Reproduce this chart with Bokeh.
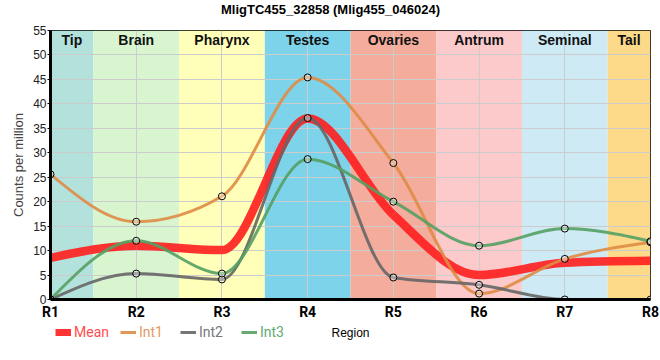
import numpy as np
from bokeh.plotting import figure
from bokeh.layouts import column
from bokeh.models import (ColumnDataSource, Legend, LegendItem, FixedTicker, Range1d, Label)
from bokeh.core.properties import value
from bokeh.embed import file_html
from bokeh.resources import INLINE

# ---------------- data ----------------
regions = ["R1", "R2", "R3", "R4", "R5", "R6", "R7", "R8"]
region_pos = [1, 2, 3, 4, 5, 6, 7, 8]
band_names = ["Tip", "Brain", "Pharynx", "Testes", "Ovaries", "Antrum", "Seminal", "Tail"]
band_colors = ["#B3E2DC", "#D8F5D0", "#FFFFB9", "#7DD3EA", "#F4AC9D", "#FDCACB", "#CEEAF4", "#FDD98A"]

mean_vals = [8.5, 11.0, 10.1, 37.0, 17.3, 5.0, 7.5, 7.9]
int1_vals = [25.6, 15.9, 21.1, 45.4, 27.9, 1.2, 8.3, 11.7]
int2_vals = [0.0, 5.3, 4.1, 37.1, 4.5, 3.0, 0.0, 0.0]
int3_vals = [0.0, 12.0, 5.3, 28.7, 20.0, 11.0, 14.5, 11.9]

series_names = ["Mean", "Int1", "Int2", "Int3"]
series_vals = [mean_vals, int1_vals, int2_vals, int3_vals]
series_colors = ["#FF1E1E", "#DF8C46", "#666666", "#55A064"]
series_widths = [8.5, 3, 3, 3]
legend_widths = [7, 3, 3, 3]
series_markers = [False, True, True, True]
legend_text_colors = ["#FF4D4D", "#E39A62", "#777777", "#5FAA70"]

TITLE = "MligTC455_32858 (Mlig455_046024)"
XLABEL = "Region"
YLABEL = "Counts per million"
FONT = "Liberation Sans"
FONT2 = "Roboto"


def monotone_bezier(xs, ys):
    """d3 curveMonotoneX: convert points to cubic bezier segments."""
    x = np.asarray(xs, float)
    y = np.asarray(ys, float)
    n = len(x)
    h = np.diff(x)
    s = np.diff(y) / h
    t = np.zeros(n)
    for i in range(1, n - 1):
        h0, h1, s0, s1 = h[i - 1], h[i], s[i - 1], s[i]
        p = (s0 * h1 + s1 * h0) / (h0 + h1)
        t[i] = (np.sign(s0) + np.sign(s1)) * min(abs(s0), abs(s1), 0.5 * abs(p))
    t[0] = (3 * s[0] - t[1]) / 2
    t[-1] = (3 * s[-1] - t[-2]) / 2
    d = dict(x0=x[:-1], y0=y[:-1], x1=x[1:], y1=y[1:],
             cx0=x[:-1] + h / 3, cy0=y[:-1] + h / 3 * t[:-1],
             cx1=x[1:] - h / 3, cy1=y[1:] - h / 3 * t[1:])
    return ColumnDataSource(d)


L, R, T, B = 50, 10, 12, 22
FW, FH = 600, 270
SW = L + FW + R


def strip(h):
    f = figure(width=SW, height=h, output_backend="svg", toolbar_location=None,
               x_range=Range1d(-2, -1), y_range=Range1d(-2, -1),
               x_axis_location=None, y_axis_location=None,
               min_border=0, outline_line_color=None)
    f.grid.visible = False
    return f


# ---- title strip (positions relative to the aligned plot frame) ----
p0 = strip(18)
p0.add_layout(Label(x=280, y=9, x_units="screen", y_units="screen", text=TITLE,
                    text_align="center", text_baseline="middle", text_font=FONT,
                    text_font_size="13px", text_font_style="bold", text_color="black"))

# ---- main plot ----
p = figure(width=SW, height=T + FH + B, output_backend="svg", toolbar_location=None,
           x_range=Range1d(1, 8), y_range=Range1d(0, 55),
           min_border_left=L, min_border_right=R, min_border_top=T, min_border_bottom=B)

# bands
n = len(region_pos)
lefts = [max(v - 0.5, region_pos[0]) for v in region_pos]
rights = [min(v + 0.5, region_pos[-1]) for v in region_pos]
band_src = ColumnDataSource(dict(left=lefts, right=rights, bottom=[0] * n, top=[55] * n,
                                 color=band_colors, name=band_names,
                                 cx=[(a + b) / 2 for a, b in zip(lefts, rights)]))
p.quad(left="left", right="right", bottom="bottom", top="top", fill_color="color",
       line_color=None, source=band_src, level="image")
p.text(x="cx", y="top", text="name", source=band_src, text_align="center",
       text_baseline="top", y_offset=1, text_font=value(FONT), text_font_size="14px",
       text_font_style="bold", text_color="#111111")

# curves
for vals, color, lw in zip(series_vals, series_colors, series_widths):
    src = monotone_bezier(region_pos, vals)
    p.bezier(x0="x0", y0="y0", x1="x1", y1="y1", cx0="cx0", cy0="cy0", cx1="cx1", cy1="cy1",
             source=src, line_color=color, line_width=lw, line_alpha=0.9)

for vals, mk in zip(series_vals, series_markers):
    if mk:
        p.scatter(x=region_pos, y=vals, size=7, marker="circle", line_color="black",
                  line_width=1, fill_color="white", fill_alpha=0.35)

# grid
p.xgrid.ticker = FixedTicker(ticks=region_pos)
p.ygrid.ticker = FixedTicker(ticks=list(range(0, 56, 5)))
p.xgrid.grid_line_color = "#cccccc"
p.ygrid.grid_line_color = "#cccccc"

# axes
p.xaxis.ticker = FixedTicker(ticks=region_pos)
p.xaxis.major_label_overrides = {v: r for v, r in zip(region_pos, regions)}
p.xaxis.major_tick_line_color = None
p.xaxis.major_tick_out = 0
p.xaxis.major_tick_in = 0
p.xaxis.minor_tick_line_color = None
p.xaxis.axis_line_width = 3
p.xaxis.axis_line_color = "black"
p.xaxis.major_label_text_font = FONT2
p.xaxis.major_label_text_font_size = "14px"
p.xaxis.major_label_text_font_style = "bold"
p.xaxis.major_label_text_color = "black"
p.xaxis.major_label_standoff = 4

p.yaxis.ticker = FixedTicker(ticks=list(range(0, 56, 5)))
p.yaxis.minor_tick_line_color = None
p.yaxis.axis_line_width = 3
p.yaxis.axis_line_color = "black"
p.yaxis.major_tick_out = 3
p.yaxis.major_tick_in = 0
p.yaxis.major_tick_line_color = "black"
p.yaxis.major_label_text_font = FONT
p.yaxis.major_label_text_font_size = "12px"
p.yaxis.major_label_text_color = "#222222"
p.yaxis.major_label_standoff = 1
p.yaxis.axis_label = YLABEL
p.yaxis.axis_label_text_font = FONT
p.yaxis.axis_label_text_font_size = "13px"
p.yaxis.axis_label_text_font_style = "normal"
p.yaxis.axis_label_standoff = 4

p.outline_line_color = "black"
p.outline_line_width = 1

# ---- strip below: legend + axis title ----
p2 = strip(22)
leg_x = [5, 70, 130, 191]
for name, vals, color, lw, tc, lx in zip(series_names, series_vals, series_colors,
                                         legend_widths, legend_text_colors, leg_x):
    r = p2.line(x=region_pos, y=vals, line_color=color, line_width=lw, line_alpha=0.9)
    lg = Legend(items=[LegendItem(label=name, renderers=[r])], location=(lx, 4),
                orientation="horizontal", padding=0, margin=0, spacing=0,
                glyph_width=16, glyph_height=10, label_standoff=3, label_height=12,
                label_text_font=FONT2, label_text_font_size="14px", label_text_color=tc,
                label_text_baseline="middle",
                background_fill_alpha=0, border_line_color=None)
    p2.add_layout(lg, "center")

p2.add_layout(Label(x=FW / 2, y=12, x_units="screen", y_units="screen", text=XLABEL,
                    text_align="center", text_baseline="middle", text_font=FONT,
                    text_font_size="12px", text_color="black"))

layout = column(p0, p, p2, spacing=0)
open("out.html", "w").write(file_html(layout, INLINE))
